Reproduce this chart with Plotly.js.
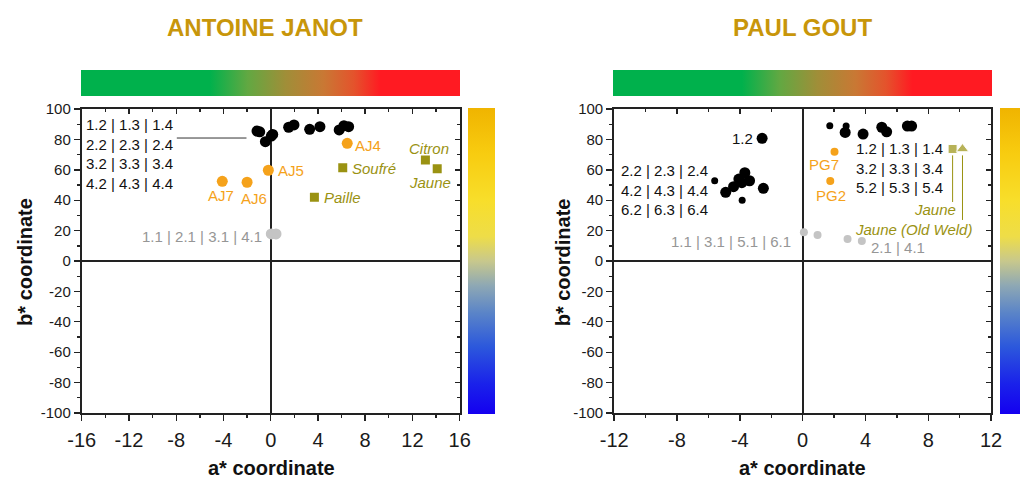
<!DOCTYPE html>
<html>
<head>
<meta charset="utf-8">
<script src="https://cdn.plot.ly/plotly-3.0.1.min.js"></script>
<style>html,body{margin:0;padding:0;background:#fff;}#chart{width:1020px;height:480px;}</style>
</head>
<body>
<div id="chart"></div>
<script>
// ---------- DATA ----------
// ANTOINE JANOT
const ajBlackA = [-1.16, -0.93, -0.45, 0.05, 0.17, 1.52, 1.97, 3.3, 4.17, 5.8, 6.2, 6.6];
const ajBlackB = [85.5, 85.0, 78.5, 82.2, 83.3, 88.0, 89.5, 86.6, 88.4, 86.2, 89.0, 88.4];
const ajSampleNames = ['AJ4', 'AJ5', 'AJ6', 'AJ7'];
const ajSampleA = [6.48, -0.2, -2.0, -4.1];
const ajSampleB = [77.4, 59.7, 51.8, 52.4];
const ajRefNames = ['Soufré', 'Paille', 'Citron', 'Jaune'];
const ajRefA = [6.1, 3.7, 13.1, 14.1];
const ajRefB = [61.4, 41.9, 66.4, 60.7];
const ajGreyA = [0.05, 0.45];
const ajGreyB = [17.8, 17.8];
const ajBlackLabel = '1.2 | 1.3 | 1.4<br>2.2 | 2.3 | 2.4<br>3.2 | 3.3 | 3.4<br>4.2 | 4.3 | 4.4';
const ajGreyLabel = '1.1 | 2.1 | 3.1 | 4.1';

// PAUL GOUT
const pgBigA = [-2.58, -4.9, -4.4, -4.06, -3.68, -3.87, -3.38, -2.5, 2.71, 3.85, 5.04, 5.35, 6.67, 6.94];
const pgBigB = [80.7, 45.2, 48.9, 53.9, 58.1, 51.5, 52.8, 47.8, 84.6, 83.5, 88.0, 85.0, 88.8, 88.8];
const pgSmallA = [-5.6, -3.85, 1.73, 2.77];
const pgSmallB = [52.8, 39.9, 89.0, 88.8];
const pgSampleNames = ['PG7', 'PG2'];
const pgSampleA = [2.03, 1.76];
const pgSampleB = [71.9, 52.6];
const pgRefNames = ['Jaune', 'Jaune (Old Weld)'];
const pgRefA = [9.55, 10.18];
const pgRefB = [73.7, 73.7];
const pgGreyA = [0.08, 0.95, 2.86, 3.77];
const pgGreyB = [18.9, 17.1, 14.5, 13.2];
const pgLabel12 = '1.2';
const pgLeftLabel = '2.2 | 2.3 | 2.4<br>4.2 | 4.3 | 4.4<br>6.2 | 6.3 | 6.4';
const pgRightLabel = '1.2 | 1.3 | 1.4<br>3.2 | 3.3 | 3.4<br>5.2 | 5.3 | 5.4';
const pgGreyLeftLabel = '1.1 | 3.1 | 5.1 | 6.1';
const pgGreyRightLabel = '2.1 | 4.1';

const titles = ['ANTOINE JANOT', 'PAUL GOUT'];
const xTitle = 'a* coordinate';
const yTitle = 'b* coordinate';
const xRangeAJ = [-16, 16];
const xRangePG = [-12, 12];
const yRange = [-100, 100];
const xTickValsAJ = [-16, -12, -8, -4, 0, 4, 8, 12, 16];
const xTickTextAJ = ['-16', '-12', '-8', '-4', '0', '4', '8', '12', '16'];
const xTickValsPG = [-12, -8, -4, 0, 4, 8, 12];
const xTickTextPG = ['-12', '-8', '-4', '0', '4', '8', '12'];
const yTickVals = [-100, -80, -60, -40, -20, 0, 20, 40, 60, 80, 100];
const yTickText = ['-100', '-80', '-60', '-40', '-20', '0', '20', '40', '60', '80', '100'];

// ---------- STYLE ----------
const FONT = 'Arial, "Liberation Sans", sans-serif';
const ORANGE = '#F5A21B';
const OLIVE = '#9A9212';
const GREY = '#C4C4C4';
const GREYTXT = '#969696';
const AXC = '#222222';

const hScale = [[0, '#00B14C'], [0.34, '#00B14C'], [0.44, '#62A842'], [0.54, '#A08E38'], [0.64, '#C97834'], [0.72, '#E4532C'], [0.79, '#FF1A22'], [1, '#FF1A22']];
const vScale = [[0, '#1400F0'], [0.1, '#1A22EA'], [0.22, '#2C58DC'], [0.33, '#5A84C8'], [0.42, '#8EA8B4'], [0.5, '#C8C88C'], [0.58, '#EEDD48'], [0.7, '#F8DE2A'], [0.85, '#F8CC10'], [1, '#F0B400']];

function xAxis(domain, range, anchor, tv, tt) {
  return {domain: domain, range: range, anchor: anchor, tickmode: 'array', tickvals: tv, ticktext: tt,
    ticks: 'outside', ticklen: 6, tickwidth: 1.4, tickcolor: AXC,
    minor: {dtick: 2, tick0: 0, ticks: 'outside', ticklen: 3, tickwidth: 1.4, tickcolor: AXC},
    showline: true, linecolor: AXC, linewidth: 2, mirror: true, showgrid: false,
    zeroline: true, zerolinecolor: AXC, zerolinewidth: 2,
    tickfont: {family: FONT, size: 20, color: '#1a1a1a'}, ticklabelstandoff: 2, fixedrange: true};
}
function yAxis(domain, anchor) {
  return {domain: domain, range: yRange, anchor: anchor, tickmode: 'array', tickvals: yTickVals, ticktext: yTickText,
    ticks: 'outside', ticklen: 6, tickwidth: 1.4, tickcolor: AXC,
    minor: {dtick: 10, tick0: 0, ticks: 'outside', ticklen: 3, tickwidth: 1.4, tickcolor: AXC},
    showline: true, linecolor: AXC, linewidth: 2, mirror: true, showgrid: false,
    zeroline: true, zerolinecolor: AXC, zerolinewidth: 2,
    tickfont: {family: FONT, size: 15, color: '#1a1a1a'}, ticklabelstandoff: 0, fixedrange: true};
}
function xMirror(over, range, anchor) {
  return {overlaying: over, anchor: anchor, side: 'top', range: range, dtick: 4, ticks: 'inside', ticklen: 5, tickwidth: 1.4, tickcolor: AXC,
    minor: {dtick: 2, ticks: 'inside', ticklen: 3, tickwidth: 1.4, tickcolor: AXC},
    showticklabels: false, showline: false, showgrid: false, zeroline: false, fixedrange: true};
}
function yMirror(over, anchor) {
  return {overlaying: over, anchor: anchor, side: 'right', range: yRange, dtick: 20, ticks: 'inside', ticklen: 5, tickwidth: 1.4, tickcolor: AXC,
    minor: {dtick: 10, ticks: 'inside', ticklen: 3, tickwidth: 1.4, tickcolor: AXC},
    showticklabels: false, showline: false, showgrid: false, zeroline: false, fixedrange: true};
}

function cbTrace(xa, ya, scale, cb) {
  return {type: 'scatter', mode: 'markers', x: [1000], y: [1000], xaxis: xa, yaxis: ya, hoverinfo: 'skip', showlegend: false,
    marker: {color: [0], cmin: 0, cmax: 1, colorscale: scale, showscale: true, opacity: 0,
      colorbar: Object.assign({outlinewidth: 0, borderwidth: 0, xpad: 0, ypad: 0, ticks: '', showticklabels: false, lenmode: 'pixels', thicknessmode: 'pixels'}, cb)}};
}

const PX = v => v / 1020;
const PY = v => 1 - v / 480;

const domXAJ = [PX(82), PX(461)];
const domXPG = [PX(616), PX(994)];
const domY = [PY(413), PY(109)];

const traces = [
  // AJ
  {type: 'scatter', mode: 'markers', x: ajGreyA, y: ajGreyB, xaxis: 'x', yaxis: 'y', marker: {color: GREY, size: 11}},
  {type: 'scatter', mode: 'markers', x: ajBlackA, y: ajBlackB, xaxis: 'x', yaxis: 'y', marker: {color: '#000', size: 11}},
  {type: 'scatter', mode: 'markers', x: ajSampleA, y: ajSampleB, text: ajSampleNames, xaxis: 'x', yaxis: 'y', marker: {color: ORANGE, size: 11}},
  {type: 'scatter', mode: 'markers', x: ajRefA, y: ajRefB, text: ajRefNames, xaxis: 'x', yaxis: 'y', marker: {color: OLIVE, size: 9, symbol: 'square'}},
  // PG
  {type: 'scatter', mode: 'markers', x: pgGreyA, y: pgGreyB, xaxis: 'x2', yaxis: 'y2', marker: {color: GREY, size: 8}},
  {type: 'scatter', mode: 'markers', x: pgBigA, y: pgBigB, xaxis: 'x2', yaxis: 'y2', marker: {color: '#000', size: 11}},
  {type: 'scatter', mode: 'markers', x: pgSmallA, y: pgSmallB, xaxis: 'x2', yaxis: 'y2', marker: {color: '#000', size: 7}},
  {type: 'scatter', mode: 'markers', x: pgSampleA, y: pgSampleB, text: pgSampleNames, xaxis: 'x2', yaxis: 'y2', marker: {color: ORANGE, size: 8}},
  {type: 'scatter', mode: 'markers', x: pgRefA, y: pgRefB, text: pgRefNames, xaxis: 'x2', yaxis: 'y2',
    marker: {color: OLIVE, size: [9, 11], symbol: ['square', 'triangle-up']}},
  // colour bars
  cbTrace('x3', 'y3', hScale, {orientation: 'h', x: PX(271.5), xanchor: 'center', y: PY(83), yanchor: 'middle', len: 379, thickness: 26}),
  cbTrace('x3', 'y3', vScale, {orientation: 'v', x: PX(469), xanchor: 'left', y: PY(261), yanchor: 'middle', len: 306, thickness: 27}),
  cbTrace('x4', 'y4', hScale, {orientation: 'h', x: PX(804.5), xanchor: 'center', y: PY(83), yanchor: 'middle', len: 379, thickness: 26}),
  cbTrace('x4', 'y4', vScale, {orientation: 'v', x: PX(1003), xanchor: 'left', y: PY(261), yanchor: 'middle', len: 306, thickness: 20})
];

const txt = (text, x, y, xref, yref, extra) => Object.assign({text: text, x: x, y: y, xref: xref, yref: yref, showarrow: false,
  xanchor: 'center', yanchor: 'middle', font: {family: FONT, size: 15, color: '#111'}}, extra || {});
const bold = (size, color) => ({family: FONT, size: size, color: color, weight: 'bold'});
const fOr = {family: FONT, size: 15, color: ORANGE};
const fOl = {family: FONT, size: 15, color: OLIVE, style: 'italic'};
const fGr = {family: FONT, size: 15, color: GREYTXT};

const annotations = [
  // titles
  txt(titles[0], PX(266), PY(27), 'paper', 'paper', {font: bold(24, '#C8960A')}),
  txt(titles[1], PX(805), PY(27), 'paper', 'paper', {font: bold(24, '#C8960A')}),
  // axis titles
  txt(xTitle, PX(272), PY(468), 'paper', 'paper', {font: bold(20, '#111')}),
  txt(xTitle, PX(805), PY(468), 'paper', 'paper', {font: bold(20, '#111')}),
  txt(yTitle, PX(25), PY(262), 'paper', 'paper', {textangle: -90, font: bold(20, '#111')}),
  txt(yTitle, PX(565), PY(262), 'paper', 'paper', {textangle: -90, font: bold(20, '#111')}),
  // AJ labels
  txt(ajBlackLabel, -15.85, 70.7, 'x', 'y', {xanchor: 'left', align: 'left'}),
  txt(ajGreyLabel, -0.55, 16.4, 'x', 'y', {xanchor: 'right', font: fGr}),
  txt(ajSampleNames[0], 7.0, 76.3, 'x', 'y', {xanchor: 'left', font: fOr}),
  txt(ajSampleNames[1], 0.48, 59.4, 'x', 'y', {xanchor: 'left', font: fOr}),
  txt(ajSampleNames[2], -1.39, 41.2, 'x', 'y', {font: fOr}),
  txt(ajSampleNames[3], -4.22, 43.0, 'x', 'y', {font: fOr}),
  txt(ajRefNames[0], 6.73, 61.0, 'x', 'y', {xanchor: 'left', font: fOl}),
  txt(ajRefNames[1], 4.33, 41.9, 'x', 'y', {xanchor: 'left', font: fOl}),
  txt(ajRefNames[2], 13.39, 73.7, 'x', 'y', {font: fOl}),
  txt(ajRefNames[3], 13.51, 51.5, 'x', 'y', {font: fOl}),
  // PG labels
  txt(pgLabel12, -3.05, 80.9, 'x2', 'y2', {xanchor: 'right'}),
  txt(pgLeftLabel, -11.7, 47, 'x2', 'y2', {xanchor: 'left', align: 'left'}),
  txt(pgRightLabel, 3.25, 61.5, 'x2', 'y2', {xanchor: 'left', align: 'left'}),
  txt(pgSampleNames[0], 1.33, 63.8, 'x2', 'y2', {font: fOr}),
  txt(pgSampleNames[1], 1.78, 42.8, 'x2', 'y2', {font: fOr}),
  txt(pgRefNames[0], 9.9, 34.2, 'x2', 'y2', {xanchor: 'right', font: fOl}),
  txt(pgRefNames[1], 10.92, 21, 'x2', 'y2', {xanchor: 'right', font: fOl}),
  txt(pgGreyLeftLabel, -0.6, 12.7, 'x2', 'y2', {xanchor: 'right', font: fGr}),
  txt(pgGreyRightLabel, 4.25, 8.8, 'x2', 'y2', {xanchor: 'left', font: fGr})
];

const shapes = [
  {type: 'line', xref: 'x', yref: 'y', x0: -7.95, x1: -2.05, y0: 80.9, y1: 80.9, line: {color: '#333', width: 1}},
  {type: 'line', xref: 'x2', yref: 'y2', x0: 9.55, x1: 9.55, y0: 69.5, y1: 38.8, line: {color: OLIVE, width: 1}},
  {type: 'line', xref: 'x2', yref: 'y2', x0: 10.18, x1: 10.18, y0: 69.5, y1: 27, line: {color: OLIVE, width: 1}}
];

const layout = {
  width: 1020, height: 480, margin: {l: 0, r: 0, t: 0, b: 0},
  paper_bgcolor: '#fff', plot_bgcolor: 'rgba(0,0,0,0)', showlegend: false,
  font: {family: FONT},
  xaxis: xAxis(domXAJ, xRangeAJ, 'y', xTickValsAJ, xTickTextAJ),
  yaxis: yAxis(domY, 'x'),
  xaxis2: xAxis(domXPG, xRangePG, 'y2', xTickValsPG, xTickTextPG),
  yaxis2: yAxis(domY, 'x2'),
  xaxis3: xMirror('x', xRangeAJ, 'y'),
  yaxis3: yMirror('y', 'x'),
  xaxis4: xMirror('x2', xRangePG, 'y2'),
  yaxis4: yMirror('y2', 'x2'),
  annotations: annotations,
  shapes: shapes
};

Plotly.newPlot('chart', traces, layout, {staticPlot: true, displayModeBar: false});
</script>
</body>
</html>
